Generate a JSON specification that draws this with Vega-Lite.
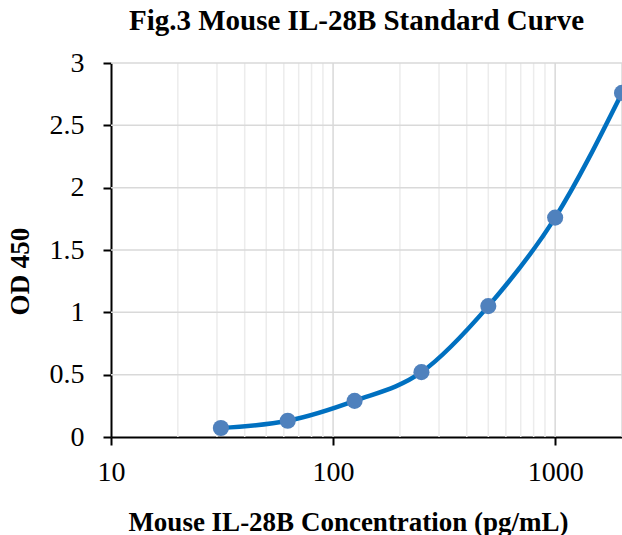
{
  "$schema": "https://vega.github.io/schema/vega-lite/v6.json",
  "width": 511,
  "height": 374,
  "autosize": {"type": "none"},
  "padding": {"left": 111, "top": 63, "right": 0, "bottom": 98},
  "background": "white",
  "title": {
    "text": "Fig.3 Mouse IL-28B Standard Curve",
    "font": "Liberation Serif",
    "fontSize": 29,
    "fontWeight": "bold",
    "color": "black",
    "anchor": "middle",
    "offset": 13,
    "dx": -10
  },
  "config": {
    "view": {"stroke": null},
    "axis": {
      "labelFont": "'Liberation Serif', 'Times New Roman', serif",
      "titleFont": "Liberation Serif",
      "labelColor": "black",
      "titleColor": "black",
      "domainColor": "black",
      "tickColor": "black",
      "domainWidth": 2,
      "tickWidth": 2,
      "tickSize": 8,
      "labelFlush": false
    }
  },
  "data": {
    "values": [
      {"conc": 31.25, "od": 0.072},
      {"conc": 62.5, "od": 0.13},
      {"conc": 125, "od": 0.29},
      {"conc": 250, "od": 0.52},
      {"conc": 500, "od": 1.05},
      {"conc": 1000, "od": 1.76},
      {"conc": 2000, "od": 2.76}
    ]
  },
  "layer": [
    {
      "mark": {"type": "rule", "color": "#ececec", "strokeWidth": 1.5},
      "data": {"values": [{"g": 20},{"g": 30},{"g": 40},{"g": 50},{"g": 60},{"g": 70},{"g": 80},{"g": 90},{"g": 200},{"g": 300},{"g": 400},{"g": 500},{"g": 600},{"g": 700},{"g": 800},{"g": 900}]},
      "encoding": {
        "x": {"field": "g", "type": "quantitative", "scale": {"type": "log", "domain": [10, 2000], "nice": false}}
      }
    },
    {
      "mark": {"type": "rule", "color": "#d9d9d9", "strokeWidth": 1.5},
      "data": {"values": [{"g": 100},{"g": 1000},{"g": 2000}]},
      "encoding": {
        "x": {"field": "g", "type": "quantitative", "scale": {"type": "log", "domain": [10, 2000], "nice": false}}
      }
    },
    {
      "mark": {"type": "rule", "color": "#d9d9d9", "strokeWidth": 1.5},
      "data": {"values": [{"h": 0.5},{"h": 1},{"h": 1.5},{"h": 2},{"h": 2.5},{"h": 3}]},
      "encoding": {
        "y": {"field": "h", "type": "quantitative", "scale": {"domain": [0, 3], "nice": false}}
      }
    },
    {
      "mark": {"type": "line", "color": "#0070C0", "strokeWidth": 4.5, "interpolate": "monotone", "clip": true},
      "encoding": {
        "x": {
          "field": "conc", "type": "quantitative",
          "scale": {"type": "log", "domain": [10, 2000], "nice": false},
          "axis": {
            "title": "Mouse IL-28B Concentration (pg/mL)",
            "titleFont": "Liberation Serif",
            "titleFontSize": 27, "titleFontWeight": "bold", "titlePadding": 23,
            "titleX": 237,
            "values": [10, 100, 1000], "format": "d",
            "labelFont": "'Liberation Serif', 'Times New Roman', serif", "labelFontWeight": "normal", "labelFlush": false,
            "labelFontSize": 28, "labelPadding": 13, "grid": false
          }
        },
        "y": {
          "field": "od", "type": "quantitative",
          "scale": {"domain": [0, 3], "nice": false},
          "axis": {
            "title": "OD 450",
            "titleFont": "Liberation Serif",
            "titleFontSize": 27, "titleFontWeight": "bold", "titlePadding": 15,
            "titleY": 208,
            "values": [0, 0.5, 1, 1.5, 2, 2.5, 3], "format": "~g",
            "labelFont": "'Liberation Serif', 'Times New Roman', serif", "labelFontWeight": "normal", "labelFlush": false,
            "labelFontSize": 28, "labelPadding": 19, "grid": false
          }
        }
      }
    },
    {
      "mark": {"type": "circle", "color": "#4F81BD", "opacity": 1, "size": 260, "clip": false},
      "encoding": {
        "x": {"field": "conc", "type": "quantitative", "scale": {"type": "log", "domain": [10, 2000], "nice": false}},
        "y": {"field": "od", "type": "quantitative", "scale": {"domain": [0, 3], "nice": false}}
      }
    }
  ]
}
